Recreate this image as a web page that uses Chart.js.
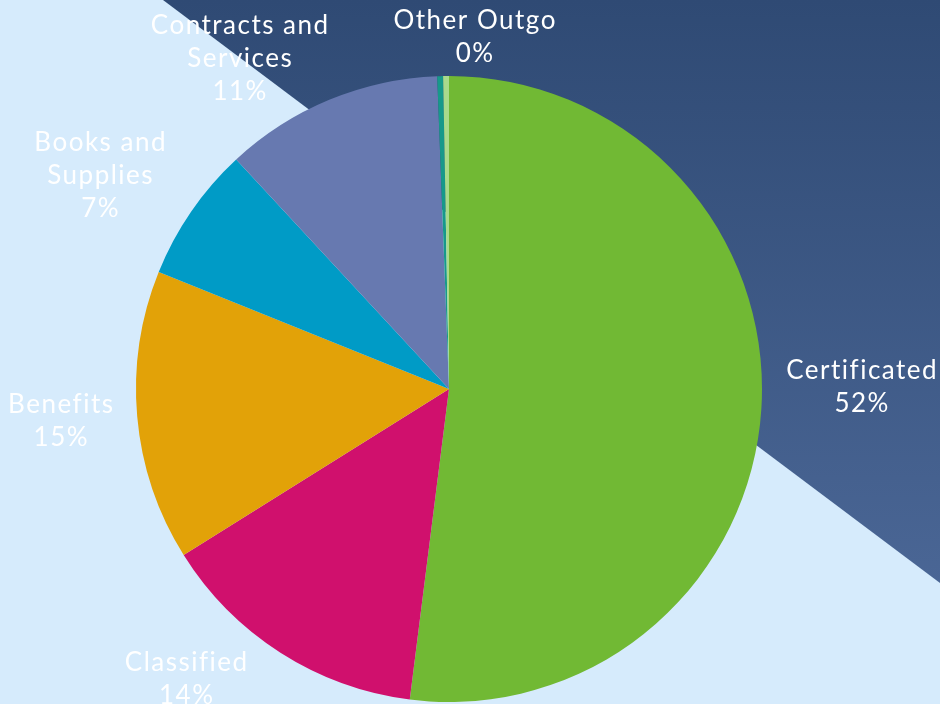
<!DOCTYPE html>
<html>
<head>
<meta charset="utf-8">
<script src="https://cdn.jsdelivr.net/npm/chart.js"></script>
<style>
  html, body { margin: 0; padding: 0; background: #d6ebfc; }
  #wrap { width: 940px; height: 704px; }
</style>
</head>
<body>
<div id="wrap"><canvas id="budget"></canvas></div>
<script>
// expenditure categories, clockwise from the top
const categories = ['Certificated', 'Classified', 'Benefits', 'Books and Supplies',
                    'Contracts and Services', 'Other Outgo', ''];
// share of budget (%)
const shares = [52.0, 14.1, 15.0, 7.0, 11.3, 0.3, 0.3];
const sliceColors = ['#71b934', '#d0106d', '#e2a208', '#009bc6', '#6779b0', '#17998a', '#a9da8c'];

const FONT = '"Lato", "DejaVu Sans", sans-serif';

// light backdrop with the dark diagonal band in the top right corner
const backdrop = {
  id: 'backdrop',
  beforeDraw(chart) {
    const ctx = chart.ctx, w = chart.width, h = chart.height;
    ctx.save();
    ctx.fillStyle = '#d6ebfc';
    ctx.fillRect(0, 0, w, h);
    let g = ctx.createLinearGradient(0, 0, 0, h * 0.83);
    g.addColorStop(0, '#2f4a74');
    g.addColorStop(1, '#4a6695');
    ctx.fillStyle = g;
    ctx.beginPath();
    ctx.moveTo(163, 0);
    ctx.lineTo(w, 0);
    ctx.lineTo(w, 583);
    ctx.closePath();
    ctx.fill();
    ctx.restore();
  }
};

function wrapWords(ctx, text, maxW) {
  let words = text.split(' '), lines = [], cur = '';
  words.forEach(function(wd) {
    let t = cur ? cur + ' ' + wd : wd;
    if (cur && ctx.measureText(t).width > maxW) { lines.push(cur); cur = wd; }
    else cur = t;
  });
  if (cur) lines.push(cur);
  return lines;
}

// small hand nudges (px) so the labels sit where the original layout put them
const labelNudge = [[2, -25], [-48, -21], [0, 0], [-17, 5], [-46, 26], [38, 17], [0, 0]];

// outside-end labels: name + percent
const outsideLabels = {
  id: 'outsideLabels',
  afterDatasetsDraw(chart) {
    const ctx = chart.ctx;
    const meta = chart.getDatasetMeta(0);
    const total = shares.reduce((a, b) => a + b, 0);
    const lineH = 33, gap = 23;
    ctx.save();
    ctx.font = '26px ' + FONT;
    ctx.letterSpacing = '1.5px';
    ctx.fillStyle = '#ffffff';
    ctx.textAlign = 'center';
    ctx.textBaseline = 'middle';
    meta.data.forEach(function(arc, i) {
      if (!categories[i]) return;
      let lines = wrapWords(ctx, categories[i], 200);
      lines.push(Math.round(shares[i] / total * 100) + '%');
      let w = Math.max.apply(null, lines.map(l => ctx.measureText(l).width));
      let h = lines.length * lineH;
      let mid = (arc.startAngle + arc.endAngle) / 2;
      let dx = Math.cos(mid), dy = Math.sin(mid);
      let r = arc.outerRadius + gap;
      let cx = arc.x + dx * r + dx * w / 2 + labelNudge[i][0];
      let cy = arc.y + dy * r + dy * h / 2 + labelNudge[i][1];
      let top = cy - h / 2 + lineH / 2;
      lines.forEach(function(l, k) { ctx.fillText(l, cx, top + k * lineH); });
    });
    ctx.restore();
  }
};

new Chart(document.getElementById('budget'), {
  type: 'pie',
  data: {
    labels: categories,
    datasets: [{
      data: shares,
      backgroundColor: sliceColors,
      borderWidth: 0
    }]
  },
  options: {
    responsive: true,
    maintainAspectRatio: false,
    animation: false,
    layout: { padding: { left: 136, right: 178, top: 76, bottom: 2 } },
    plugins: {
      legend: { display: false },
      tooltip: { enabled: false }
    }
  },
  plugins: [backdrop, outsideLabels]
});
</script>
</body>
</html>
